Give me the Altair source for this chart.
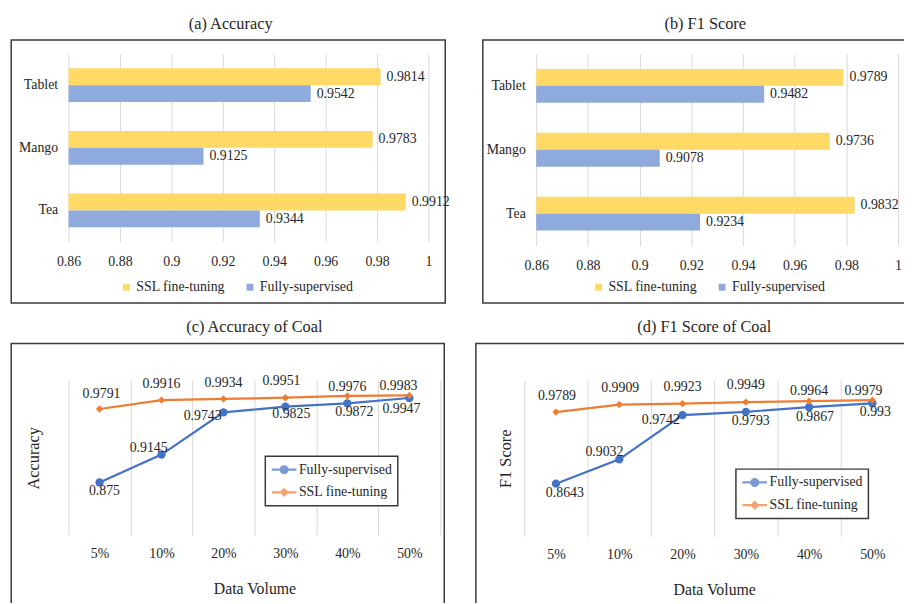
import math
import altair as alt
import pandas as pd

FONT = "Liberation Serif"
TXT = "#262626"
GRID = "#d9d9d9"
BOX = "#3a3a3a"

# ---------------- data ----------------
crops = ["Tablet", "Mango", "Tea"]
bar_series = ["SSL fine-tuning", "Fully-supervised"]
acc_ssl = [0.9814, 0.9783, 0.9912]
acc_fully = [0.9542, 0.9125, 0.9344]
f1_ssl = [0.9789, 0.9736, 0.9832]
f1_fully = [0.9482, 0.9078, 0.9234]
bar_ticks = [0.86, 0.88, 0.9, 0.92, 0.94, 0.96, 0.98, 1.0]

volumes = ["5%", "10%", "20%", "30%", "40%", "50%"]
line_series = ["Fully-supervised", "SSL fine-tuning"]
coal_acc_fully = [0.875, 0.9145, 0.9743, 0.9825, 0.9872, 0.9947]
coal_acc_ssl = [0.9791, 0.9916, 0.9934, 0.9951, 0.9976, 0.9983]
coal_f1_fully = [0.8643, 0.9032, 0.9742, 0.9793, 0.9867, 0.993]
coal_f1_ssl = [0.9789, 0.9909, 0.9923, 0.9949, 0.9964, 0.9979]

# ---------------- style ----------------
BAR_COLORS = ["#FFD966", "#8FAADC"]
LINE_COLORS = ["#4472C4", "#ED7D31"]

# data-label nudges (dx, dy) in pixels, like manually placed Excel labels
NUDGE_C = {
    "SSL fine-tuning": {"5%": (2, -15), "10%": (0, -16), "20%": (0, -16), "30%": (-4, -17), "40%": (0, -9), "50%": (-11, -10)},
    "Fully-supervised": {"5%": (5, 9), "10%": (-13, -7), "20%": (-21, 4), "30%": (6, 8), "40%": (7, 9), "50%": (-8, 11)},
}
NUDGE_D = {
    "SSL fine-tuning": {"5%": (1, -16), "10%": (1, -17), "20%": (0, -17), "30%": (0, -17), "40%": (0, -10), "50%": (-9, -9)},
    "Fully-supervised": {"5%": (9, 9), "10%": (-15, -7), "20%": (-22, 5), "30%": (5, 9), "40%": (6, 10), "50%": (3, 9)},
}


def poly(cx, r, n):
    pts = []
    for i in range(n):
        a = 2 * math.pi * i / n + (math.pi / 2 if n == 4 else 0)
        pts.append(f"{cx + r * math.cos(a):.3f},{r * math.sin(a):.3f}")
    return "M" + "L".join(pts) + "Z"


CX = 0.79
LINE_PATH = "M-1,0L2.57,0"
SYM_CIRCLE = LINE_PATH + "".join(poly(CX, r, 14) for r in (0.5, 0.3, 0.1))
SYM_DIAMOND = LINE_PATH + "".join(poly(CX, r, 4) for r in (0.45, 0.27, 0.1))


def box_layer(left, right, top, bottom):
    return alt.Chart(pd.DataFrame({"box": [0]})).mark_rect(
        fill="white", fillOpacity=0, stroke=BOX, strokeWidth=1.5
    ).encode(x=alt.value(left), x2=alt.value(right), y=alt.value(top), y2=alt.value(bottom))


def title_params(text, dx):
    return alt.TitleParams(text=text, font=FONT, fontSize=16.5, fontWeight="normal", color=TXT,
                           anchor="middle", frame="group", offset=7, dx=dx)


def bar_panel(title, title_dx, ssl, fully, w, h, box, legend_x, legend_y, pad_inner):
    df = pd.DataFrame({
        "crop": crops + crops,
        "series": [bar_series[0]] * len(crops) + [bar_series[1]] * len(crops),
        "value": ssl + fully,
    })
    xenc = alt.X("value:Q",
                 scale=alt.Scale(domain=[bar_ticks[0], bar_ticks[-1]], nice=False, zero=False),
                 axis=alt.Axis(values=bar_ticks, format="~g", title=None, domain=False, ticks=False,
                               grid=True, gridColor=GRID, labelPadding=13, labelFont=FONT,
                               labelFontSize=14, labelColor=TXT, labelFlush=False))
    base = alt.Chart(df).encode(
        x=xenc,
        y=alt.Y("crop:N", sort=crops,
                scale=alt.Scale(paddingInner=pad_inner, paddingOuter=pad_inner / 2),
                axis=alt.Axis(title=None, domain=False, ticks=False, labelPadding=11,
                              labelFont=FONT, labelFontSize=14, labelColor=TXT)),
        yOffset=alt.YOffset("series:N", scale=alt.Scale(domain=bar_series)),
    )
    bars = base.mark_bar().encode(
        x2=alt.X2(datum=bar_ticks[0]),
        color=alt.Color("series:N", scale=alt.Scale(domain=bar_series, range=BAR_COLORS),
                        legend=alt.Legend(title=None, orient="none", legendX=legend_x, legendY=legend_y,
                                          direction="horizontal", symbolType="square", symbolSize=49,
                                          symbolStrokeWidth=0, labelFont=FONT, labelFontSize=14,
                                          labelColor=TXT, labelOffset=3, columnPadding=18, padding=0)),
    )
    labels = base.mark_text(align="left", baseline="middle", dx=6, font=FONT, fontSize=14,
                            color=TXT).encode(text=alt.Text("value:Q", format="~g"))
    return alt.layer(box_layer(*box), bars, labels).properties(
        width=w, height=h, title=title_params(title, title_dx))


def line_panel(title, title_dx, ytitle, ytitle_pad, fully, ssl, w, h, ydomain, box,
               legend_x, legend_y, nudges):
    df = pd.DataFrame({
        "vol": volumes + volumes,
        "series": [line_series[0]] * len(volumes) + [line_series[1]] * len(volumes),
        "value": fully + ssl,
    })
    xenc = alt.X("vol:N", sort=volumes,
                 scale=alt.Scale(type="band", paddingInner=0, paddingOuter=0),
                 axis=alt.Axis(title="Data Volume", labelAngle=0, tickBand="extent", grid=True,
                               gridColor=GRID, domain=False, ticks=False, labelPadding=11,
                               labelFont=FONT, labelFontSize=14, labelColor=TXT,
                               titleFont=FONT, titleFontSize=16, titleFontWeight="normal",
                               titleColor=TXT, titlePadding=21))
    yenc = alt.Y("value:Q", scale=alt.Scale(domain=ydomain, nice=False, zero=False),
                 axis=alt.Axis(title=ytitle, labels=False, ticks=False, domain=False, grid=False,
                               titleFont=FONT, titleFontSize=16.5, titleFontWeight="normal",
                               titleColor=TXT, titlePadding=ytitle_pad))
    cscale = alt.Scale(domain=line_series, range=LINE_COLORS)
    base = alt.Chart(df).encode(x=xenc, y=yenc)
    leg = alt.Legend(title=None, orient="none", legendX=legend_x, legendY=legend_y,
                     strokeColor=BOX, fillColor="white", padding=5, symbolSize=196,
                     symbolStrokeWidth=2.25, labelFont=FONT, labelFontSize=14,
                     labelColor=TXT, labelOffset=12, rowPadding=6)
    # legend-only layer (first, so its legend settings win): draws no marks
    carrier = base.transform_filter(alt.datum.value < 0).mark_point(filled=False).encode(
        color=alt.Color("series:N", scale=cscale, legend=leg),
        shape=alt.Shape("series:N", scale=alt.Scale(domain=line_series,
                                                    range=[SYM_CIRCLE, SYM_DIAMOND]), legend=leg),
    )
    line = base.mark_line(strokeWidth=2.25).encode(
        color=alt.Color("series:N", scale=cscale, legend=None))
    pts_f = base.transform_filter(alt.datum.series == line_series[0]).mark_point(
        shape="circle", filled=True, size=70, opacity=1).encode(
        color=alt.Color("series:N", scale=cscale, legend=None))
    pts_s = base.transform_filter(alt.datum.series == line_series[1]).mark_point(
        shape="diamond", filled=True, size=55, opacity=1).encode(
        color=alt.Color("series:N", scale=cscale, legend=None))
    texts = []
    for s in line_series:
        for v in volumes:
            dx, dy = nudges[s][v]
            texts.append(
                base.transform_filter((alt.datum.series == s) & (alt.datum.vol == v))
                .mark_text(dx=dx, dy=dy, font=FONT, fontSize=14, color=TXT)
                .encode(text=alt.Text("value:Q", format="~g"))
            )
    return alt.layer(box_layer(*box), carrier, line, pts_f, pts_s, *texts).properties(
        width=w, height=h, title=title_params(title, title_dx))


panel_a = bar_panel("(a) Accuracy", -18, acc_ssl, acc_fully, 364, 190, (-58, 381, -14, 252),
                    51.5, 229, 0.46)
panel_b = bar_panel("(b) F1 Score", -12, f1_ssl, f1_fully, 366, 194, (-54, 400, -14, 252),
                    56, 229, 0.47)
panel_c = line_panel("(c) Accuracy of Coal", 0, "Accuracy", 27, coal_acc_fully, coal_acc_ssl,
                     376, 157, [0.8, 1.02], (-58, 380, -37, 157 + 85), 199, 77, NUDGE_C)
panel_d = line_panel("(d) F1 Score of Coal", -10, "F1 Score", 11.5, coal_f1_fully, coal_f1_ssl,
                     384, 158, [0.78, 1.03], (-49, 410, -37, 158 + 85), 214, 90, NUDGE_D)


def indep(c):
    return c.resolve_scale(color="independent", shape="independent").resolve_legend(
        color="independent", shape="independent")


top = indep(alt.hconcat(panel_a, panel_b, spacing=32))
bottom = indep(alt.hconcat(panel_c, panel_d, spacing=30))
chart = indep(alt.vconcat(top, bottom, spacing=15)).properties(
    padding={"left": 2.25, "top": 4, "right": -29, "bottom": -21.75}
).configure(font=FONT).configure_view(strokeWidth=0).configure_legend(strokeWidth=1.5)

chart.save("out.html", embed_options={"renderer": "svg", "actions": False})
